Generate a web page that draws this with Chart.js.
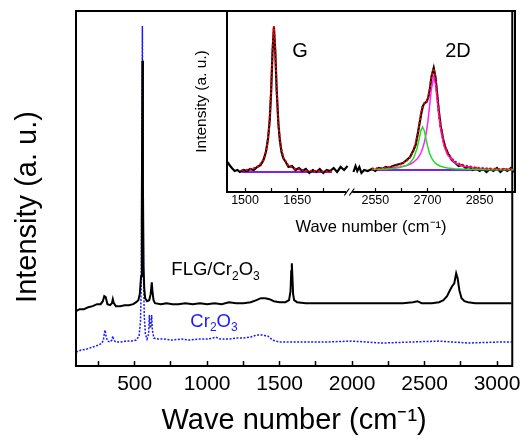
<!DOCTYPE html>
<html>
<head>
<meta charset="utf-8">
<script src="https://cdn.jsdelivr.net/npm/chart.js@4.4.0/dist/chart.umd.min.js"></script>
<style>
  body { margin: 0; background: #fff; }
  #wrap { position: relative; width: 532px; height: 440px; }
  #main { position: absolute; left: 0; top: 0; }
  #inset { position: absolute; left: 190px; top: 0; }
</style>
</head>
<body>
<div id="wrap">
  <canvas id="main" width="532" height="440"></canvas>
  <canvas id="inset" width="342" height="240"></canvas>
</div>
<script>
const FONT = '"Liberation Sans", Arial, sans-serif';

// main spectrum: FLG/Cr2O3 (black) and Cr2O3 (blue, dotted)
const flgX = [96,120,150,180,210,240,265,280,290,300,312,330,343,349,356,370,400,430,460,490,510,525,535,544,549,553,557,561,566,572,585,600,610,618,623,630,640,680,720,760,800,850,900,950,1000,1050,1100,1150,1200,1250,1300,1340,1370,1400,1430,1460,1500,1540,1565,1575,1580,1584,1588,1593,1600,1620,1680,1750,1850,1950,2050,2150,2250,2350,2420,2450,2480,2550,2600,2630,2655,2675,2690,2705,2718,2728,2740,2755,2775,2800,2850,2950,3050,3100];
const flgY = [55,57,57,59,60,62,62,65,70,69,62,61,63,67,63,60,60,61,61,62,64,66,72,90,150,306,180,100,78,68,65,66,72,84,74,66,63,62,63,62,62,63,62,63,62,63,62,64,63,63,64,66,68,68,67,65,64,64,66,75,95,103,90,72,66,64,63,63,63,63,63,63,63,63,64,65,63,63,64,66,70,76,80,83,93,88,76,68,65,64,63,63,63,63];
const crX = [96,130,170,210,250,275,285,292,296,302,312,330,342,349,355,370,400,440,480,510,530,540,546,549,553,557,561,566,574,585,596,601,606,612,617,622,632,660,700,760,820,880,940,1000,1040,1060,1090,1150,1200,1250,1300,1340,1380,1420,1450,1500,1600,1700,1800,2000,2200,2400,2600,2800,3000,3100];
const crY = [14,16,17,19,21,23,27,34,36,30,25,24,26,30,26,24,24,25,25,26,30,45,90,200,341,200,90,50,32,27,32,51,38,40,51,36,28,27,27,26,27,26,27,27,28,29,27,27,28,28,29,31,31,30,26,24,24,24,24,25,23,24,25,23,24,24];
const mainTicks = [250,500,750,1000,1250,1500,1750,2000,2250,2500,2750,3000];
const flgLabelAt = [753, 96];
const crLabelAt = [884, 44];

// inset: G and 2D bands, measured + fits
const gDataX = [1450,1455,1462,1470,1478,1485,1495,1505,1515,1525,1535,1545,1553,1560,1566,1571,1575,1579,1583,1587,1591,1596,1600,1605,1610,1617,1625,1635,1645,1655,1665,1675,1685,1695,1705,1715,1725,1735,1745,1755,1765,1775,1785,1795];
const gDataY = [30,27,24,21,22,20,22,21,23,22,25,27,32,40,53,72,100,140,165,140,102,68,52,40,34,30,25,26,22,24,21,23,19,22,20,23,19,22,21,24,20,25,22,26];
const dDataX = [2487,2493,2498,2504,2510,2518,2528,2540,2550,2560,2570,2580,2590,2600,2610,2620,2630,2640,2650,2660,2666,2672,2677,2682,2687,2692,2697,2702,2707,2712,2718,2723,2728,2733,2738,2745,2752,2760,2770,2780,2790,2800,2810,2820,2830,2840,2850,2860,2870,2880,2890,2900,2910,2920,2930,2940,2950];
const dDataY = [20,26,21,25,19,22,21,23,21,24,23,25,24,26,27,28,29,32,35,42,47,58,68,78,86,89,90,94,103,116,124,115,98,80,66,53,44,38,32,29,26,27,24,25,22,24,21,23,20,23,21,24,20,23,21,24,20];
const gFitX = [1490,1520,1540,1555,1563,1570,1575,1579,1583,1587,1591,1596,1603,1611,1625,1645,1680,1720,1750];
const gFitY = [21.4,22.9,26.1,33.7,44.6,67.3,101.6,141.9,166,141.9,101.6,67.3,44.6,33.7,26.4,23.0,21.3,20.6,20.5];
const dFitX = [2540,2570,2600,2620,2640,2650,2660,2670,2676,2681,2686,2691,2696,2701,2706,2711,2718,2723,2728,2733,2738,2748,2758,2778,2798,2838,2878,2918,2950];
const dFitY = [23.4,24.1,25.4,27.3,31.1,34.9,41.6,54.4,66.7,78.2,86.4,88.7,88.9,92.7,102.1,114.7,123.6,114.8,97.6,80.1,66.1,48.3,39.0,30.6,27.1,24.4,23.4,22.9,22.7];
const greenY = [22.5,22.8,23.4,24.4,26.6,29.1,33.8,43.5,52.9,61.2,65,61.2,52.9,44.9,38.8,34.5,30.6,28.8,27.5,26.5,25.7,24.7,24.0,23.3,22.9,22.5,22.3,22.2,22.2];
const magentaY = [22.9,23.3,24.0,24.9,26.5,27.8,29.8,32.9,35.8,39.0,43.4,49.5,58.0,69.8,85.3,102.2,115,108,92.2,75.6,62.4,45.6,37.0,29.3,26.3,23.9,23.1,22.7,22.6];
const baseLeftX = [1490,1750], baseLeftY = [20,20];
const baseRightX = [2540,2950], baseRightY = [22,22];
const insetTicks = [1500,1575,1650,1725,2550,2625,2700,2775,2850,2925];
const insetLabels = [1500,1650,2550,2700,2850];
const gLabelAt = [1658, 141];
const dLabelAt = [2788, 141];

// broken axis: cut out 1800..2475
const BREAK_LO = 1800, BREAK_HI = 2475;
const squeeze = v => v >= BREAK_HI ? v - (BREAK_HI - BREAK_LO) : v;
const unsqueeze = v => v > BREAK_LO ? v + (BREAK_HI - BREAK_LO) : v;

const pts = (xs, ys, f = v => v) => xs.map((x, i) => ({ x: f(x), y: ys[i] }));

function drawChem(ctx, parts, x, y, size, color) {
    ctx.save();
    ctx.fillStyle = color;
    ctx.textBaseline = 'middle';
    ctx.textAlign = 'left';
    let cx = x;
    parts.forEach(([t, sub]) => {
        const s = sub ? size * 0.65 : size;
        ctx.font = s + 'px ' + FONT;
        ctx.fillText(t, cx, sub ? y + size * 0.32 : y);
        cx += ctx.measureText(t).width;
    });
    ctx.restore();
}

const frame = {
    id: 'frame',
    afterDraw(c) {
        const { ctx, chartArea: a } = c;
        ctx.save();
        ctx.strokeStyle = '#000';
        ctx.lineWidth = 2;
        ctx.strokeRect(a.left, a.top, a.right - a.left, a.bottom - a.top);
        ctx.restore();
    }
};

const mainText = {
    id: 'mainText',
    afterDraw(c) {
        const { ctx, scales: { x, y } } = c;
        drawChem(ctx, [['FLG/Cr', 0], ['2', 1], ['O', 0], ['3', 1]],
            x.getPixelForValue(flgLabelAt[0]), y.getPixelForValue(flgLabelAt[1]), 18.5, '#000');
        drawChem(ctx, [['Cr', 0], ['2', 1], ['O', 0], ['3', 1]],
            x.getPixelForValue(crLabelAt[0]), y.getPixelForValue(crLabelAt[1]), 18.5, '#1a1aff');
        // y title sits a bit below the axis centre in the original
        ctx.save();
        ctx.translate(28, 207);
        ctx.rotate(-Math.PI / 2);
        ctx.font = '29px ' + FONT;
        ctx.fillStyle = '#000';
        ctx.textAlign = 'center';
        ctx.textBaseline = 'middle';
        ctx.fillText('Intensity (a. u.)', 0, 0);
        ctx.restore();
    }
};

new Chart(document.getElementById('main'), {
    type: 'line',
    data: {
        datasets: [
            { data: pts(flgX, flgY), borderColor: '#000', borderWidth: 2, pointRadius: 0, order: 0 },
            { data: pts(crX, crY), borderColor: '#1a1aff', borderWidth: 1.5, borderDash: [2, 1.5], pointRadius: 0, order: 1 }
        ]
    },
    options: {
        responsive: false, animation: false, devicePixelRatio: 1,
        layout: { padding: { top: 11, right: 17, left: 0, bottom: 0 } },
        plugins: { legend: { display: false }, tooltip: { enabled: false } },
        elements: { line: { tension: 0 } },
        scales: {
            x: {
                type: 'linear', min: 95, max: 3105,
                afterBuildTicks: s => { s.ticks = mainTicks.map(v => ({ value: v })); },
                afterFit: s => { s.height = 74; },
                ticks: {
                    autoSkip: false, maxRotation: 0, padding: 11, color: '#000',
                    font: { family: FONT, size: 21 },
                    callback: v => v % 500 === 0 ? String(v) : ''
                },
                grid: { drawOnChartArea: false, tickLength: -5, color: '#000', tickWidth: 1.5 },
                border: { color: '#000', width: 2 },
                title: { display: true, text: 'Wave number (cm⁻¹)', color: '#000', font: { family: FONT, size: 29 }, padding: { top: 0, bottom: 2 } }
            },
            y: {
                min: 0, max: 356,
                afterFit: s => { s.width = 76; },
                ticks: { display: false },
                grid: { display: false },
                border: { color: '#000', width: 2 }
            }
        }
    },
    plugins: [frame, mainText]
});

const insetText = {
    id: 'insetText',
    afterDraw(c) {
        const { ctx, scales: { x, y } } = c;
        ctx.save();
        ctx.font = '20px ' + FONT;
        ctx.fillStyle = '#000';
        ctx.textAlign = 'center';
        ctx.textBaseline = 'middle';
        ctx.fillText('G', x.getPixelForValue(squeeze(gLabelAt[0])), y.getPixelForValue(gLabelAt[1]));
        ctx.fillText('2D', x.getPixelForValue(squeeze(dLabelAt[0])), y.getPixelForValue(dLabelAt[1]));
        // axis break marks on the bottom border
        const bx = x.getPixelForValue(BREAK_LO), by = c.chartArea.bottom;
        ctx.fillStyle = '#fff';
        ctx.fillRect(bx - 3, by - 2, 6, 4);
        ctx.strokeStyle = '#000';
        ctx.lineWidth = 1.2;
        [-2.5, 2.5].forEach(d => {
            ctx.beginPath();
            ctx.moveTo(bx + d - 2.5, by + 3.5);
            ctx.lineTo(bx + d + 2.5, by - 3.5);
            ctx.stroke();
        });
        ctx.restore();
    }
};

const line = (data, color, width, dash) => ({
    data, borderColor: color, borderWidth: width, borderDash: dash || [], pointRadius: 0
});

new Chart(document.getElementById('inset'), {
    type: 'line',
    data: {
        datasets: [
            line(pts(gFitX, gFitY, squeeze), '#ff0000', 2, [2, 2]),
            line(pts(dFitX, dFitY, squeeze), '#ff0000', 2, [2, 2]),
            line(pts(dFitX, greenY, squeeze), '#22dd22', 1.5),
            line(pts(dFitX, magentaY, squeeze), '#ff22ff', 1.5),
            line(pts(gDataX, gDataY, squeeze), '#000', 2.2),
            line(pts(dDataX, dDataY, squeeze), '#000', 2.2),
            line(pts(baseLeftX, baseLeftY, squeeze), '#8020e8', 2),
            line(pts(baseRightX, baseRightY, squeeze), '#8020e8', 2)
        ]
    },
    options: {
        responsive: false, animation: false, devicePixelRatio: 1,
        layout: { padding: { top: 11, right: 17, left: 0, bottom: 0 } },
        plugins: { legend: { display: false }, tooltip: { enabled: false } },
        elements: { line: { tension: 0 } },
        scales: {
            x: {
                type: 'linear', min: squeeze(1448), max: squeeze(2952),
                afterBuildTicks: s => { s.ticks = insetTicks.map(v => ({ value: squeeze(v) })); },
                afterFit: s => { s.height = 48; },
                ticks: {
                    autoSkip: false, maxRotation: 0, padding: 5.5, color: '#000',
                    font: { family: FONT, size: 12.5 },
                    callback: v => insetLabels.includes(unsqueeze(v)) ? String(unsqueeze(v)) : ''
                },
                grid: { drawOnChartArea: false, tickLength: -4, color: '#000', tickWidth: 1.2 },
                border: { color: '#000', width: 2 },
                title: { display: true, text: 'Wave number (cm⁻¹)', color: '#000', font: { family: FONT, size: 16.5 }, padding: { top: 0, bottom: 3 } }
            },
            y: {
                min: 0, max: 181,
                afterFit: s => { s.width = 37; },
                ticks: { display: false },
                grid: { display: false },
                border: { color: '#000', width: 2 },
                title: { display: true, text: 'Intensity (a. u.)', color: '#000', font: { family: FONT, size: 15.5 }, padding: { top: 2, bottom: 0 } }
            }
        }
    },
    plugins: [frame, insetText]
});
</script>
</body>
</html>
